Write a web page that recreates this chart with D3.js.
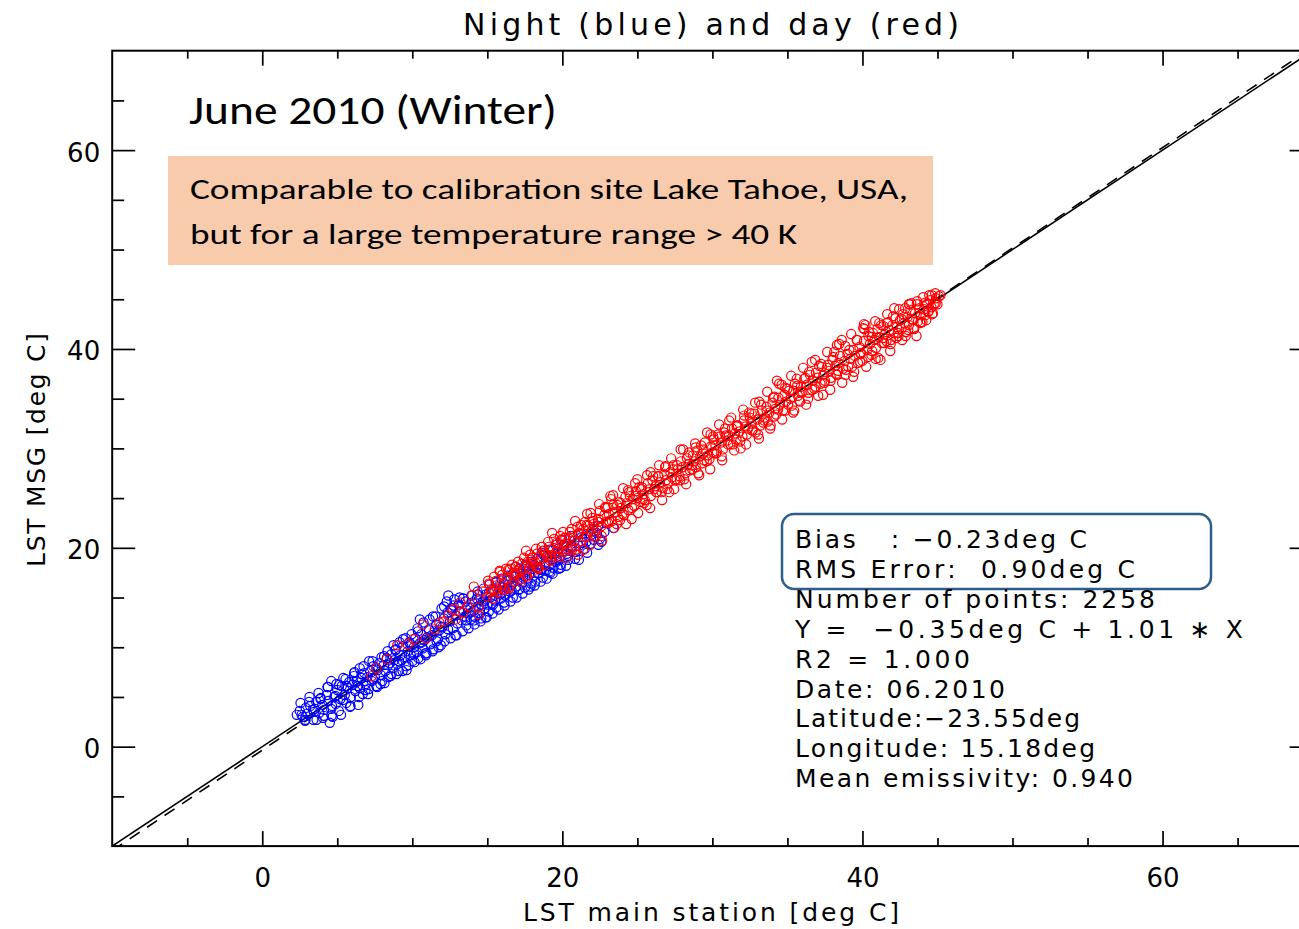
<!DOCTYPE html>
<html><head><meta charset="utf-8">
<script src="https://cdn.jsdelivr.net/npm/d3@7"></script>
<style>
body{margin:0;background:#fff}
svg{display:block}
.idl{font-family:"DejaVu Sans",sans-serif;fill:#000}
.cal{font-family:Carlito,Calibri,Lato,"Open Sans",sans-serif;fill:#000}
</style></head><body>
<svg id="chart" width="1299" height="929"></svg>
<script>
// Station LST (x) vs. MSG LST (y), deg C — night overpasses
const nightPoints = [
[2.3,3.2],[2.5,3.6],[2.7,3.0],[2.9,3.9],[3.0,3.3],[3.2,4.1],[3.4,2.7],[3.5,3.8],[3.6,4.5],[3.8,3.4],
[3.9,4.9],[4.0,4.2],[4.1,3.1],[4.3,5.2],[4.4,4.6],[4.5,2.4],[4.6,3.8],[4.6,6.6],[4.7,3.0],[4.8,5.0],
[4.9,4.3],[5.0,5.7],[5.1,3.6],[5.2,4.8],[5.3,6.1],
[5.4,6.9],[5.5,5.2],[5.6,4.4],[5.7,5.9],[5.8,6.5],[5.9,5.0],[6.0,6.2],[6.1,7.1],[6.2,5.6],[6.3,6.6],
[6.4,4.2],[6.5,7.9],[6.5,5.9],[6.6,6.9],[6.7,5.3],[6.8,7.4],[6.9,6.3],[7.0,7.0],[7.1,5.8],[7.2,7.6],
[7.3,6.6],[7.4,8.1],[7.5,7.0],[7.6,6.1],[7.7,7.7],[7.8,8.4],[7.9,7.2],[8.0,6.6],
[8.1,8.2],[8.2,7.6],[8.3,8.9],[8.4,7.0],[8.5,8.4],[8.6,9.3],[8.7,7.9],[8.8,8.7],[8.9,9.8],[9.0,8.3],
[9.1,7.6],[9.2,9.2],[9.3,8.7],[9.4,10.1],[9.5,9.0],[9.6,8.1],[9.7,9.6],[9.8,10.5],[9.9,9.2],[10.0,8.6],
[10.1,10.0],[10.2,10.9],[10.3,9.5],[10.4,8.9],[10.5,10.4],[10.5,12.8],[10.6,11.3],[10.7,9.9],[10.8,10.7],[10.9,9.2],
[11.0,11.0],[11.1,11.8],[11.2,10.3],[11.3,11.2],[11.4,9.8],[11.5,11.6],[11.6,12.3],[11.7,10.8],[11.8,11.7],[11.9,10.2],
[12.0,12.0],[12.1,12.9],[12.2,11.3],
[12.3,14.6],[12.4,15.2],[12.5,12.6],[12.6,13.9],[12.7,11.9],[12.8,14.8],[12.9,13.2],[13.0,12.4],[13.1,14.3],[13.2,13.6],
[13.3,12.7],[13.4,14.9],[13.5,13.1],[13.6,12.2],[13.7,14.0],[13.8,13.4],[13.9,12.8],[14.0,14.5],[14.1,13.7],[14.2,13.0],
[14.3,14.9],[14.4,14.1],[14.5,13.4],[14.6,12.9],[14.7,14.6],[14.8,13.9],[14.9,15.3],[15.0,14.3],[15.1,13.6],[15.2,15.0],
[15.3,14.4],[15.4,15.8],[15.5,14.7],[15.6,14.0],[15.7,15.4],[15.8,16.2],[15.9,14.9],[16.0,15.5],
[16.1,16.4],[16.2,15.2],[16.3,15.9],[16.4,16.8],[16.5,15.6],[16.6,16.3],[16.7,15.0],[16.8,17.1],[16.9,16.1],[17.0,16.7],
[17.1,15.8],[17.2,17.4],[17.3,16.5],[17.4,17.0],[17.5,16.0],[17.6,17.6],[17.7,16.9],[17.8,17.3],[17.9,16.4],[18.0,17.9],
[18.1,17.2],[18.2,16.6],[18.3,18.1],[18.4,17.5],[18.5,18.8],[18.6,17.8],[18.7,17.0],[18.8,18.4],[18.9,17.7],[19.0,19.1],
[19.1,18.2],[19.2,17.5],[19.3,18.8],[19.4,18.0],[19.5,19.4],[19.6,18.6],[19.7,19.9],[19.8,19.0],[19.9,18.3],[20.0,19.6],
[20.1,20.3],[20.3,19.4],[20.4,18.8],[20.6,20.0],[20.8,20.7],[20.9,19.6],[21.1,20.2],[21.1,18.8],[21.3,21.1],[21.5,19.9],
[21.6,20.6],[21.9,21.3],[22.1,20.8],[22.3,21.5],[22.4,20.3],[22.5,20.9],[22.8,21.6],[23.4,22.0],
[2.55,4.4],[2.85,2.6],[3.15,5.0],[3.45,3.5],[3.75,5.4],[4.05,2.9],[4.35,6.0],[4.65,4.1],[4.95,6.3],[5.25,3.2],
[5.55,6.8],[5.85,4.0],[6.15,7.5],[6.45,5.0],[6.75,8.1],[7.05,5.3],[7.35,8.6],[7.65,6.0],[7.95,9.0],[8.15,6.4],
[8.35,9.6],[8.55,7.1],[8.75,10.2],[8.95,7.3],[9.15,10.5],[9.35,7.6],[9.55,10.9],[9.75,8.2],[9.95,11.3],[10.15,8.5],
[10.35,11.9],[10.55,8.8],[10.75,12.5],[10.95,9.4],[11.15,12.8],[11.35,9.6],[11.55,13.1],[11.75,10.0],[11.95,13.9],[12.15,10.6],
[12.35,13.5],[12.55,10.9],[12.75,14.2],[12.95,11.2],[13.15,15.0],[13.35,11.6],[13.55,14.6],[13.75,11.9],[13.95,15.2],[14.15,12.3],
[14.35,15.6],[14.55,12.6],[14.75,15.9],[14.95,13.0],[15.15,16.3],[15.35,13.4],[15.55,16.5],[15.75,13.8],[15.95,16.9],[16.15,14.2],
[16.35,17.2],[16.55,14.6],[16.75,17.5],[16.95,15.0],[17.15,17.9],[17.35,15.4],[17.55,18.3],[17.75,15.8],[17.95,18.6],[18.15,16.2],
[18.35,18.9],[18.55,16.6],[18.75,19.3],[18.95,16.9],[19.15,19.8],[19.35,17.4],[19.55,20.3],[19.75,17.9],[19.95,20.8],[20.25,18.2],
[20.55,21.2],[20.85,18.9],[21.25,21.4],[21.65,19.5],[22.05,21.9],[22.6,20.6],
[2.62,3.2],[2.88,2.7],[3.12,4.5],[3.38,3.7],[3.62,2.7],[3.88,4.8],[4.12,3.7],[4.38,6.0],[4.62,3.1],[4.88,5.1],
[5.12,6.2],[5.38,4.7],[5.62,6.1],[5.88,4.1],[6.12,7.4],[6.38,6.1],[6.62,7.3],[6.88,5.7],[7.12,8.6],[7.38,6.8],
[7.62,7.9],[7.88,6.3],[8.12,9.1],[8.38,8.2],[8.62,7.3],[8.88,9.7],[9.12,8.6],[9.38,10.8],[9.62,7.7],[9.88,10.3],
[10.12,9.3],[10.38,11.6],[10.62,10.5],[10.88,9.4],[11.12,11.7],[11.38,13.1],[11.62,10.6],[11.88,12.1],[12.12,14.1],[12.38,11.8],
[12.62,13.7],[12.88,11.2],[13.12,13.6],[13.38,14.9],[13.62,12.7],[13.88,14.0],[14.12,12.7],[14.38,15.3],[14.62,14.3],[14.88,13.0],
[15.12,15.5],[15.38,14.3],[15.62,16.6],[15.88,15.4],[16.12,14.5],[16.38,16.7],[16.62,15.7],[16.88,18.1],[17.12,15.8],[17.38,17.2],
[17.62,18.2],[17.88,16.1],[18.12,18.3],[18.38,17.4],[18.62,19.5],[18.88,18.3],[19.12,17.6],[19.38,19.8],[19.62,18.8],[19.88,18.0],
[20.12,20.2],[20.38,19.2],[20.62,20.2],[21.38,20.5],[21.88,20.4],[22.38,22.2]
];
// Station LST (x) vs. MSG LST (y), deg C — day overpasses
const dayPoints = [
[7.3,7.1],[7.6,7.9],[8.3,8.8],[9.0,10.2],[9.7,10.3],[10.1,10.8],[10.7,12.3],[10.9,10.9],[11.5,11.8],[11.8,12.5],
[12.1,12.6],[12.4,13.2],[12.7,13.8],[12.9,12.8],[13.2,14.5],[13.4,13.5],[13.7,14.1],[14.0,15.2],[14.1,16.1],[14.4,14.0],
[14.4,13.3],[14.7,15.6],
[15.0,15.1],[15.1,16.4],[15.3,15.8],[15.4,14.9],[15.6,16.7],[15.7,15.5],[15.9,16.2],[16.0,17.3],[16.1,15.8],[16.3,16.9],
[16.4,17.8],[16.5,16.1],[16.7,17.2],[16.8,16.6],[16.9,18.1],[17.0,17.5],[17.2,16.9],[17.3,18.4],[17.4,17.9],[17.6,17.2],
[17.7,18.6],[17.8,18.0],[18.0,17.6],[18.0,19.0],[18.2,18.5],[18.3,19.4],[18.4,17.9],[18.6,18.9],[18.7,19.7],[18.8,18.3],
[19.0,19.3],[19.1,20.1],[19.2,18.7],[19.3,19.8],[19.5,19.2],[19.6,20.5],[19.7,19.9],[19.8,19.1],[19.9,20.8],[20.0,20.2],
[20.1,19.6],[20.2,21.0],[20.3,20.4],[20.5,21.6],[20.6,20.1],[20.7,21.2],[20.8,20.7],[21.0,22.1],[21.1,21.4],[21.2,20.6],
[21.4,21.9],[21.5,22.6],[21.6,21.1],[21.7,22.2],[21.9,21.6],[22.0,23.0],[22.1,22.4],[22.3,21.8],[22.4,22.9],[22.5,23.7],
[22.6,22.2],[22.8,23.3],[22.9,22.6],[23.0,24.0],[23.1,23.4],[23.2,25.2],[23.3,22.7],[23.4,24.3],[23.5,23.6],[23.7,23.1],
[23.8,24.6],[23.9,24.0],[24.0,23.4],[24.2,25.1],[24.3,24.5],[24.4,23.8],[24.5,25.2],[24.7,24.9],[24.8,24.2],[24.9,25.7],
[25.0,25.0],[25.0,26.9],[25.2,24.6],[25.3,26.1],[25.4,25.4],[25.5,24.8],[25.7,26.5],[25.8,25.9],[25.9,25.2],[26.0,26.8],
[26.2,26.2],[26.3,25.6],[26.4,27.2],[26.5,26.6],[26.7,26.0],[26.8,27.4],[26.9,26.8],[27.0,25.9],[27.2,27.6],[27.3,27.1],
[27.4,28.3],[27.5,26.8],[27.7,27.9],[27.8,27.2],[27.9,28.7],[28.0,28.1],[28.2,27.5],[28.3,29.0],[28.4,28.4],[28.5,27.8],
[28.7,29.3],[28.8,28.7],[28.9,28.1],[29.0,29.8],[29.2,29.2],[29.3,28.5],[29.4,29.9],[29.5,30.6],[29.7,29.3],[29.8,28.9],
[29.9,30.2],[30.0,29.6],
[30.1,30.9],[30.2,30.3],[30.3,29.7],[30.5,31.2],[30.6,30.6],[30.7,29.9],[30.8,31.6],[31.0,30.8],[31.1,31.3],[31.2,30.4],
[31.3,32.0],[31.5,31.5],[31.6,30.9],[31.7,32.3],[31.8,31.7],[32.0,31.2],[32.1,32.8],[32.2,32.2],[32.3,31.4],[32.5,33.1],
[32.6,32.5],[32.7,31.9],[32.8,33.5],[33.0,32.9],[33.1,31.0],[33.2,32.3],[33.3,33.8],[33.5,33.1],[33.6,34.2],[33.7,32.7],
[33.8,33.6],[34.0,34.6],[34.1,33.2],[34.2,34.0],[34.3,36.8],[34.4,35.1],[34.5,34.4],[34.7,33.8],[34.8,35.4],[34.9,34.7],
[35.0,36.0],[35.2,35.0],[35.3,34.3],[35.4,35.8],[35.5,36.5],[35.7,35.3],[35.8,34.8],[35.9,36.2],[36.0,35.7],[36.2,37.1],
[36.3,36.4],[36.4,35.6],[36.5,37.4],[36.7,36.8],[36.8,36.0],[36.9,37.6],[37.0,37.1],[37.2,36.5],[37.3,38.2],[37.4,37.4],
[37.5,36.8],[37.7,38.4],[37.8,37.8],[37.9,37.1],[38.0,38.9],[38.2,38.3],[38.3,40.4],[38.3,37.4],[38.4,38.6],[38.5,39.3],
[38.7,38.0],[38.8,38.8],[38.9,37.9],[39.0,39.5],[39.2,39.0],[39.3,38.2],[39.4,39.9],[39.5,39.3],[39.7,38.6],[39.8,40.2],
[39.9,39.6],[40.0,38.8],
[40.1,40.8],[40.1,42.5],[40.2,42.4],[40.3,39.9],[40.4,41.3],[40.5,40.5],[40.6,39.4],[40.7,41.6],[40.8,40.9],[40.9,40.1],
[41.0,42.0],[41.1,41.2],[41.2,38.9],[41.3,40.6],[41.4,42.3],[41.5,41.5],[41.6,40.8],[41.7,42.7],[41.8,41.9],[41.9,40.9],
[42.0,42.4],[42.1,41.6],[42.2,43.1],[42.3,42.2],[42.4,41.3],[42.5,42.9],[42.6,42.0],[42.7,43.5],[42.8,42.6],[42.9,41.7],
[43.0,43.2],[43.1,44.5],[43.1,42.4],[43.2,43.9],[43.3,43.0],[43.4,42.1],[43.5,43.6],[43.6,41.3],[43.7,42.8],[43.8,44.1],
[43.9,43.4],[44.0,42.7],[44.1,44.0],[44.2,43.4],[44.3,44.5],[44.4,43.8],[44.5,44.9],[44.6,44.2],[44.7,43.6],[44.8,44.6],
[44.9,45.1],[45.0,44.5],[45.1,45.3],[45.2,45.4],
[15.05,16.7],[15.25,15.6],[15.45,17.1],[15.65,15.9],[15.85,17.6],[16.05,16.4],[16.25,17.9],[16.45,15.9],[16.65,18.3],[16.85,17.2],
[17.05,18.6],[17.25,17.6],[17.45,19.0],[17.65,17.1],[17.85,19.3],[18.05,18.4],[18.25,19.9],[18.45,18.0],[18.65,20.1],[18.85,19.5],
[19.05,20.6],[19.25,19.0],[19.45,20.9],[19.65,19.6],[19.85,21.2],
[20.05,21.6],[20.25,19.0],[20.45,20.9],[20.65,19.8],[20.85,22.7],[21.05,19.3],[21.25,22.3],[21.45,21.1],[21.65,23.4],[21.85,20.3],
[22.05,22.7],[22.25,21.2],[22.45,24.4],[22.65,20.7],[22.85,24.1],[23.05,22.5],[23.25,24.9],[23.45,22.0],[23.65,24.3],[23.85,22.8],
[24.05,26.0],[24.25,22.4],[24.45,25.6],[24.65,24.0],[24.85,26.5],[25.05,23.5],[25.25,25.9],[25.45,24.5],[25.65,27.3],[25.85,24.0],
[26.05,27.2],[26.25,25.6],[26.45,28.3],[26.65,24.8],[26.85,28.1],[27.05,26.5],[27.25,29.0],[27.45,25.9],[27.65,28.3],[27.85,26.8],
[28.05,29.9],[28.25,26.4],[28.45,29.6],[28.65,27.9],[28.85,30.5],[29.05,27.5],[29.25,30.3],[29.45,28.8],[29.65,31.6],[29.85,27.9],
[30.05,31.2],[30.25,29.5],[30.45,32.4],[30.65,28.8],[30.85,32.0],[31.05,30.4],[31.25,33.1],[31.45,29.8],[31.65,32.3],[31.85,30.7],
[32.05,33.9],[32.25,30.4],[32.45,33.6],[32.65,31.8],[32.85,34.6],[33.05,31.4],[33.25,34.4],[33.45,32.8],[33.65,35.7],[33.85,32.0],
[34.05,35.1],[34.25,33.4],[34.45,36.5],[34.65,32.9],[34.85,36.1],[35.05,34.4],[35.25,37.3],[35.45,33.8],[35.65,36.3],[35.85,34.7],
[36.05,38.1],[36.25,34.4],[36.45,37.7],[36.65,35.9],[36.85,38.9],[37.05,35.3],[37.25,38.5],[37.45,36.6],[37.65,39.7],[37.85,35.9],
[38.05,39.2],[38.25,37.5],[38.45,40.5],[38.65,36.6],[38.85,40.3],[39.05,38.2],[39.25,41.5],[39.45,37.7],[39.65,40.9],[39.85,38.7],
[40.05,42.1],[40.25,38.2],[40.45,41.7],[40.65,39.8],[40.85,42.8],[41.05,39.1],[41.25,42.4],[41.45,40.6],[41.65,43.5],[41.85,39.8],
[42.05,43.3],[42.25,41.1],[42.45,44.0],[42.65,40.9],[42.85,44.1],[43.05,41.9],[43.25,44.6],[43.45,42.0],[43.65,44.8],[43.85,42.6],
[44.05,45.2],[44.25,42.9],[44.45,45.4],[44.65,43.5],[44.85,45.6],
[15.12,16.3],[15.48,15.7],[15.82,17.7],[16.18,15.8],[16.52,17.9],[16.88,17.4],[17.22,16.6],[17.58,19.7],[17.92,18.8],[18.28,18.0],
[18.62,20.1],[18.98,19.1],[19.32,21.5],[19.68,20.4],
[20.12,21.0],[20.38,19.8],[20.62,21.9],[20.88,19.8],[21.12,21.5],[21.38,19.8],[21.62,22.3],[21.88,23.5],[22.12,21.2],[22.38,22.6],
[22.62,21.2],[22.88,24.0],[23.12,22.7],[23.38,25.3],[23.62,22.4],[23.88,24.5],[24.12,23.3],[24.38,25.8],[24.62,22.9],[24.88,25.2],
[25.12,26.1],[25.38,24.9],[25.62,24.3],[25.88,27.6],[26.12,25.9],[26.38,27.2],[26.62,25.6],[26.88,28.2],[27.12,25.6],[27.38,27.9],
[27.62,26.9],[27.88,29.9],[28.12,26.9],[28.38,29.3],[28.62,28.3],[28.88,30.1],[29.12,27.3],[29.38,29.5],[29.62,28.7],[29.88,31.4],
[30.12,29.5],[30.38,31.4],[30.62,29.2],[30.88,31.3],[31.12,32.8],[31.38,30.4],[31.62,32.2],[31.88,30.0],[32.12,33.3],[32.38,32.0],
[32.62,33.5],[32.88,31.6],[33.12,34.7],[33.38,32.6],[33.62,33.8],[33.88,32.3],[34.12,35.2],[34.38,33.9],[34.62,36.4],[34.88,33.8],
[35.12,35.8],[35.38,33.6],[35.62,37.0],[35.88,35.7],[36.12,37.0],[36.38,35.0],[36.62,38.7],[36.88,36.2],[37.12,38.3],[37.38,35.4],
[37.62,38.1],[37.88,36.8],[38.12,39.7],[38.38,37.8],[38.62,40.9],[38.88,37.4],[39.12,39.9],[39.38,37.2],[39.62,40.9],[39.88,39.5],
[40.12,42.0],[40.38,39.2],[40.62,41.2],[40.88,39.0],[41.12,42.6],[41.38,41.1],[41.62,42.6],[41.88,40.5],[42.12,44.1],[42.38,41.6],
[42.62,43.0],[42.88,41.3],[43.12,44.5],[43.38,42.9],[43.62,44.5],[43.88,42.7],[44.12,44.6],[44.38,43.7],[44.62,45.4],[44.88,44.6]
];

const xDomain = [-10, 70];
const yDomain = [-10, 70];
const majorTicks = [0, 20, 40, 60];
const minorTicks = [-5, 5, 10, 15, 25, 30, 35, 45, 50, 55, 65];
const fitIntercept = -0.35, fitSlope = 1.01;

const titleText = "Night (blue) and day (red)";
const xLabel = "LST main station [deg C]";
const yLabel = "LST MSG [deg C]";
const headline = "June 2010 (Winter)";
const noteLines = ["Comparable to calibration site Lake Tahoe, USA,",
                   "but for a large temperature range > 40 K"];
const statLines = [
  "Bias   : \u22120.23deg C",
  "RMS Error:  0.90deg C",
  "Number of points: 2258",
  "Y =  \u22120.35deg C + 1.01 \u2217 X",
  "R2 = 1.000",
  "Date: 06.2010",
  "Latitude:\u221223.55deg",
  "Longitude: 15.18deg",
  "Mean emissivity: 0.940"
];
const statWidths = [292, 340, 360, 448, 175, 210, 285, 300, 338];

(function draw() {
  const svg = d3.select("#chart");
  const pL = 112.2, pR = 1312.6, pT = 50.7, pB = 846.1;
  const x = d3.scaleLinear().domain(xDomain).range([pL, pR]);
  const y = d3.scaleLinear().domain(yDomain).range([pB, pT]);

  svg.append("defs").append("clipPath").attr("id", "plotClip")
    .append("rect").attr("x", pL).attr("y", pT)
    .attr("width", pR - pL).attr("height", pB - pT);

  const plot = svg.append("g").attr("clip-path", "url(#plotClip)");

  // 1:1 line and regression line
  const line = d3.line().x(d => x(d[0])).y(d => y(d[1]));
  plot.append("path").datum(xDomain.map(v => [v, v]))
    .attr("d", line).attr("fill", "none").attr("stroke", "#000").attr("stroke-width", 1.6);
  plot.append("path").datum(xDomain.map(v => [v, fitIntercept + fitSlope * v]))
    .attr("d", line).attr("fill", "none").attr("stroke", "#000").attr("stroke-width", 1.6)
    .attr("stroke-dasharray", "12,9");

  // scatter: night first, day on top
  plot.append("g").selectAll("circle").data(nightPoints).join("circle")
    .attr("cx", d => x(d[0])).attr("cy", d => y(d[1])).attr("r", 4.6)
    .attr("fill", "none").attr("stroke", "#0000ff").attr("stroke-width", 1.2);
  plot.append("g").selectAll("circle").data(dayPoints).join("circle")
    .attr("cx", d => x(d[0])).attr("cy", d => y(d[1])).attr("r", 4.6)
    .attr("fill", "none").attr("stroke", "#ff0000").attr("stroke-width", 1.2);

  // axes with inward ticks
  function styleAxis(g) {
    g.select(".domain").remove();
    g.selectAll(".tick line").attr("stroke", "#000").attr("stroke-width", 1.7);
    g.selectAll("text").attr("class", "idl").attr("font-size", 26).attr("fill", "#000");
  }
  const noLabel = () => "";
  const fmt = d3.format("d");

  svg.append("g").attr("transform", `translate(0,${pB})`)
    .call(d3.axisBottom(x).tickValues(majorTicks).tickSize(-15).tickFormat(fmt))
    .call(styleAxis)
    .call(g => g.selectAll("text").attr("y", 41).attr("dy", null));
  svg.append("g").attr("transform", `translate(0,${pB})`)
    .call(d3.axisBottom(x).tickValues(minorTicks).tickSize(-8).tickFormat(noLabel)).call(styleAxis);
  svg.append("g").attr("transform", `translate(0,${pT})`)
    .call(d3.axisTop(x).tickValues(majorTicks).tickSize(-15).tickFormat(noLabel)).call(styleAxis);
  svg.append("g").attr("transform", `translate(0,${pT})`)
    .call(d3.axisTop(x).tickValues(minorTicks).tickSize(-8).tickFormat(noLabel)).call(styleAxis);

  svg.append("g").attr("transform", `translate(${pL},0)`)
    .call(d3.axisLeft(y).tickValues(majorTicks).tickSize(-23).tickFormat(fmt))
    .call(styleAxis)
    .call(g => g.selectAll("text").attr("x", -12).attr("dy", null).attr("y", 11).attr("text-anchor", "end"));
  svg.append("g").attr("transform", `translate(${pL},0)`)
    .call(d3.axisLeft(y).tickValues(minorTicks).tickSize(-12).tickFormat(noLabel)).call(styleAxis);
  svg.append("g").attr("transform", `translate(${pR},0)`)
    .call(d3.axisRight(y).tickValues(majorTicks).tickSize(-23).tickFormat(noLabel)).call(styleAxis);
  svg.append("g").attr("transform", `translate(${pR},0)`)
    .call(d3.axisRight(y).tickValues(minorTicks).tickSize(-12).tickFormat(noLabel)).call(styleAxis);

  // frame
  svg.append("rect").attr("x", pL).attr("y", pT)
    .attr("width", pR - pL).attr("height", pB - pT)
    .attr("fill", "none").attr("stroke", "#000").attr("stroke-width", 2);

  // titles
  svg.append("text").attr("class", "idl").attr("x", 711).attr("y", 35)
    .attr("text-anchor", "middle").attr("font-size", 30)
    .attr("textLength", 496).attr("lengthAdjust", "spacing").text(titleText);
  svg.append("text").attr("class", "idl").attr("x", 711).attr("y", 921)
    .attr("text-anchor", "middle").attr("font-size", 25)
    .attr("textLength", 376).attr("lengthAdjust", "spacing").text(xLabel);
  svg.append("text").attr("class", "idl")
    .attr("transform", "translate(45,450) rotate(-90)")
    .attr("text-anchor", "middle").attr("font-size", 25)
    .attr("textLength", 234).attr("lengthAdjust", "spacing").text(yLabel);

  // headline and note box
  svg.append("text").attr("class", "cal").attr("x", 189).attr("y", 124)
    .attr("font-size", 42).attr("textLength", 368).attr("lengthAdjust", "spacingAndGlyphs")
    .text(headline);
  svg.append("rect").attr("x", 168).attr("y", 156).attr("width", 765).attr("height", 109)
    .attr("fill", "#f8cbad");
  const noteWidths = [718, 607];
  noteLines.forEach((t, i) => {
    svg.append("text").attr("class", "cal").attr("x", 190).attr("y", 199 + i * 45)
      .attr("font-size", 29).attr("textLength", noteWidths[i])
      .attr("lengthAdjust", "spacingAndGlyphs").text(t);
  });

  // statistics block
  svg.append("rect").attr("x", 782).attr("y", 514).attr("width", 429).attr("height", 75)
    .attr("rx", 12).attr("fill", "none").attr("stroke", "#2f5d8a").attr("stroke-width", 2.5);
  statLines.forEach((t, i) => {
    svg.append("text").attr("class", "idl").attr("x", 795).attr("y", 548 + i * 29.9)
      .attr("font-size", 25).style("white-space", "pre")
      .attr("textLength", statWidths[i]).attr("lengthAdjust", "spacing").text(t);
  });
})();
</script>
</body></html>
